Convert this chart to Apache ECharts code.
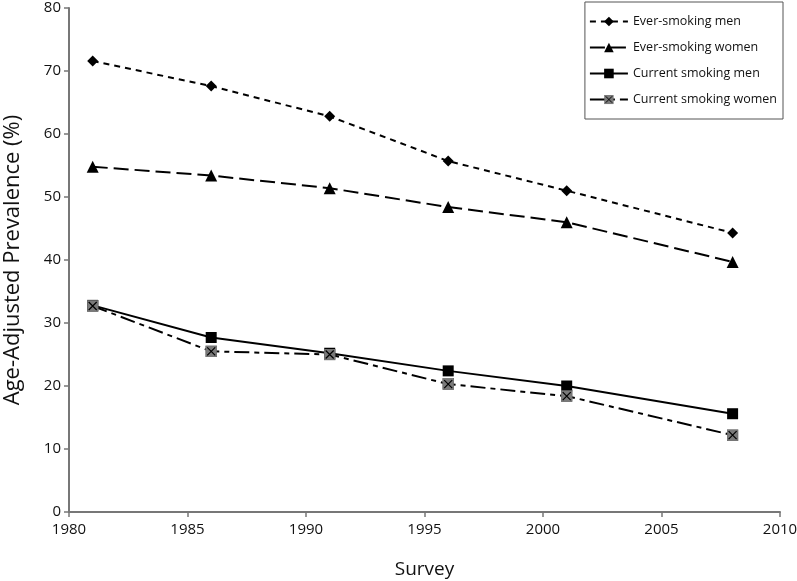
<!DOCTYPE html>
<html>
<head>
<meta charset="utf-8">
<script src="https://cdn.jsdelivr.net/npm/echarts@6/dist/echarts.min.js"></script>
<style>
html,body{margin:0;padding:0;background:#fff;}
#chart{width:797px;height:581px;}
</style>
</head>
<body>
<div id="chart"></div>
<script>
const surveyYears = [1981, 1986, 1991, 1996, 2001, 2008];
const seriesNames = ['Ever-smoking men', 'Ever-smoking women', 'Current smoking men', 'Current smoking women'];
const everMen = [71.6, 67.6, 62.8, 55.7, 51.0, 44.3];
const everWomen = [54.8, 53.4, 51.4, 48.4, 46.0, 39.7];
const currentMen = [32.8, 27.7, 25.2, 22.4, 20.0, 15.6];
const currentWomen = [32.7, 25.5, 25.0, 20.3, 18.4, 12.2];
const yTicks = [0, 10, 20, 30, 40, 50, 60, 70, 80];
const xTicks = [1980, 1985, 1990, 1995, 2000, 2005, 2010];

const pair = (vals) => surveyYears.map((x, i) => [x, vals[i]]);

const crossSvg = "<svg xmlns='http://www.w3.org/2000/svg' width='24' height='24' viewBox='0 0 24 24'>" +
  "<rect x='1' y='1' width='22' height='22' fill='#7a7a7a' stroke='#666' stroke-width='1.5'/>" +
  "<path d='M4 4L20 20M20 4L4 20' stroke='#000' stroke-width='2.4'/></svg>";
const crossSymbol = 'image://data:image/svg+xml;charset=utf-8,' + encodeURIComponent(crossSvg);

const font = 'Open Sans';
const chart = echarts.init(document.getElementById('chart'), null, {renderer: 'canvas'});
chart.setOption({
  animation: false,
  backgroundColor: '#fff',
  grid: {left: 69, right: 17, top: 8, bottom: 69, containLabel: false, outerBoundsMode: 'none'},
  legend: {
    orient: 'vertical',
    right: 14,
    top: 2,
    padding: [13, 6, 13, 4],
    itemWidth: 38,
    itemHeight: 12,
    itemGap: 13,
    borderColor: '#555',
    borderWidth: 1,
    textStyle: {fontFamily: font, fontSize: 12.5, color: '#111'},
    data: seriesNames.map(n => ({name: n}))
  },
  xAxis: {
    type: 'value',
    min: 1980, max: 2010, interval: 5,
    name: 'Survey', nameLocation: 'middle', nameGap: 48,
    nameTextStyle: {fontFamily: font, fontSize: 19, color: '#111'},
    axisLine: {show: true, onZero: false, lineStyle: {color: '#777', width: 2}},
    axisTick: {show: true, length: 5, lineStyle: {color: '#777', width: 1.5}},
    axisLabel: {fontFamily: font, fontSize: 15, color: '#111', margin: 10,
      formatter: v => xTicks.includes(v) ? String(v) : ''},
    splitLine: {show: false}
  },
  yAxis: {
    type: 'value',
    min: 0, max: 80, interval: 10,
    name: 'Age-Adjusted Prevalence (%)', nameLocation: 'middle', nameGap: 45,
    nameTextStyle: {fontFamily: font, fontSize: 22, color: '#111'},
    axisLine: {show: true, lineStyle: {color: '#777', width: 2}},
    axisTick: {show: true, length: 5, lineStyle: {color: '#777', width: 1.5}},
    axisLabel: {fontFamily: font, fontSize: 15, color: '#111', margin: 8,
      formatter: v => yTicks.includes(v) ? String(v) : ''},
    splitLine: {show: false}
  },
  series: [
    {
      name: seriesNames[0], type: 'line', data: pair(everMen),
      symbol: 'diamond', symbolSize: 11,
      itemStyle: {color: '#000'},
      lineStyle: {color: '#000', width: 2, type: [6, 5]}
    },
    {
      name: seriesNames[1], type: 'line', data: pair(everWomen),
      symbol: 'triangle', symbolSize: 12,
      itemStyle: {color: '#000'},
      lineStyle: {color: '#000', width: 2, type: [15, 6]}
    },
    {
      name: seriesNames[2], type: 'line', data: pair(currentMen),
      symbol: 'rect', symbolSize: 11,
      itemStyle: {color: '#000'},
      lineStyle: {color: '#000', width: 2, type: 'solid'}
    },
    {
      name: seriesNames[3], type: 'line', data: pair(currentWomen),
      symbol: crossSymbol, symbolSize: 12,
      itemStyle: {color: '#000'},
      lineStyle: {color: '#000', width: 2, type: [15, 5, 5, 5]},
      z: 3
    }
  ]
});
</script>
</body>
</html>
